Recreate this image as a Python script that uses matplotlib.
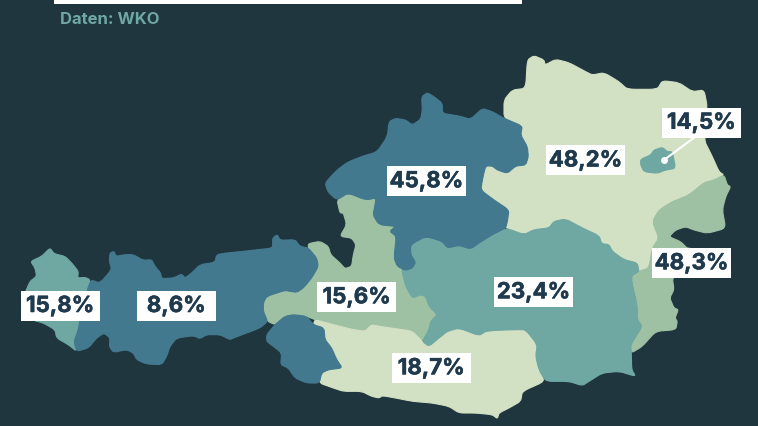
import matplotlib
matplotlib.use("Agg")
import matplotlib.pyplot as plt
from matplotlib.patches import PathPatch, Rectangle
from matplotlib.path import Path
import matplotlib.patheffects as pe

BG = "#20363e"
C_DARK = "#43798f"
C_TEAL = "#6fa8a3"
C_MID = "#9fc1a3"
C_LIGHT = "#d2e0c3"
INK = "#1f3a4d"

# label texts (percent)
values = {"Vorarlberg": "15,8%", "Tirol": "8,6%", "Salzburg": "15,6%", "Oberösterreich": "45,8%",
          "Niederösterreich": "48,2%", "Wien": "14,5%", "Burgenland": "48,3%", "Steiermark": "23,4%",
          "Kärnten": "18,7%"}
label_pos = {"Vorarlberg": (60, 305.7), "Tirol": (176.2, 305.7), "Salzburg": (356.5, 297),
             "Oberösterreich": (426.3, 181), "Niederösterreich": (585.5, 160.2), "Wien": (701.2, 122.5),
             "Burgenland": (691.5, 263), "Steiermark": (533.5, 292), "Kärnten": (431.2, 368)}

def S(pts, ox, oy):
    return [(ox + x / 3, oy + y / 3) for x, y in pts]
def W(pts): return S(pts, 0, 213)       # west part
def E(pts): return S(pts, 379, 213)     # south-east part
def N(pts): return S(pts, 379, 40)      # north-east part

salzburg = (
    [(337, 200), (348, 193), (366, 200), (376, 198), (379, 225), (396, 226), (390, 231), (397, 236)]
    + E([(45, 125), (60, 150), (68, 170), (80, 220), (100, 255), (125, 245), (140, 250), (150, 280), (175, 305),
         (155, 325), (150, 350), (130, 385), (100, 355), (70, 350), (0, 340)])
    + W([(1115, 335), (1095, 355), (1060, 350), (1000, 335), (945, 320), (920, 310), (880, 305), (855, 310),
         (825, 335), (803, 325), (790, 295), (790, 270), (800, 250), (855, 232), (870, 235), (890, 238),
         (910, 225), (935, 195), (950, 160), (945, 135), (925, 105), (925, 92), (960, 85), (985, 100),
         (992, 125), (1020, 150), (1035, 167), (1055, 160), (1060, 125), (1068, 95), (1055, 75), (1020, 70),
         (1040, 35), (1030, 0)])
    + [(340, 213)]
)
vorarlberg = W([(150, 105), (162, 122), (195, 130), (215, 150), (235, 175), (233, 195), (255, 193), (270, 200),
                (265, 230), (250, 290), (240, 320), (235, 350), (222, 385), (230, 415), (205, 395), (170, 375),
                (165, 350), (130, 330), (100, 322), (62, 300), (75, 240), (90, 205), (110, 190), (105, 165),
                (92, 145), (125, 130)])
tirol = W([(330, 120), (342, 115), (348, 130), (375, 125), (400, 125), (430, 142), (455, 140), (465, 160),
           (482, 180), (485, 197), (520, 195), (545, 183), (555, 195), (575, 180), (600, 155), (645, 148),
           (650, 125), (680, 120), (730, 115), (775, 110), (818, 105), (818, 75), (832, 65), (840, 82),
           (885, 80), (900, 100), (925, 105), (950, 135), (955, 160), (935, 195), (910, 225), (890, 238),
           (870, 235), (855, 232), (800, 250), (790, 270), (790, 295), (803, 325), (780, 345), (700, 375),
           (690, 380), (660, 365), (620, 365), (600, 377), (580, 368), (530, 375), (510, 400), (500, 430),
           (485, 455), (440, 453), (410, 440), (400, 420), (380, 410), (340, 418), (328, 400), (330, 375),
           (312, 360), (290, 375), (265, 405), (230, 415), (222, 385), (235, 350), (240, 320), (270, 200),
           (300, 210), (335, 170), (328, 145)])
osttirol = W([(800, 365), (825, 335), (855, 310), (880, 305), (920, 310), (940, 335), (972, 345), (975, 380),
              (995, 405), (1010, 440), (1027, 465), (985, 470), (965, 480), (958, 510), (920, 510), (885, 495),
              (865, 465), (842, 455), (845, 420), (820, 400), (800, 385)])
oberoesterreich = (
    [(325, 183), (337, 170), (348, 162), (363, 156), (377, 152)]
    + N([(25, 290), (30, 245), (50, 235), (80, 240), (100, 255), (125, 238), (130, 210), (128, 170), (145, 158),
         (165, 170), (190, 190), (190, 220), (240, 228), (275, 238), (310, 205), (340, 215), (375, 235), (430, 258),
         (425, 285), (445, 320), (448, 350), (440, 375), (410, 378), (385, 400), (355, 390), (340, 378), (320, 378),
         (312, 410), (305, 450), (345, 480), (390, 510), (385, 545)])
    + E([(380, 45), (340, 65), (300, 90), (275, 108), (240, 97), (205, 105), (190, 85), (140, 70), (95, 95),
         (95, 125), (110, 148), (100, 165), (80, 172), (55, 160), (45, 135), (52, 70), (32, 55), (50, 40), (0, 35)])
    + [(373, 215), (375, 205), (376, 198), (366, 200), (348, 193), (337, 200), (328, 192)]
)
niederoesterreich = (
    N([(375, 235), (375, 180), (400, 150), (440, 145), (445, 60), (465, 47), (495, 60), (498, 75), (530, 58),
       (570, 68), (620, 95), (640, 105), (675, 98), (720, 125), (745, 148), (835, 148), (850, 122), (900, 128),
       (940, 155), (975, 150), (985, 200), (975, 300), (1000, 350), (1020, 395), (1035, 405), (1005, 420),
       (975, 428), (930, 465), (880, 485), (840, 510), (820, 545)])
    + E([(840, 75), (820, 105), (810, 165), (780, 175), (775, 150), (735, 140), (700, 115), (690, 95), (668, 92),
         (660, 68), (610, 45), (560, 18), (525, 25), (510, 45), (465, 50), (435, 65), (380, 45)])
    + N([(385, 545), (390, 510), (345, 480), (305, 450), (312, 410), (320, 378), (340, 378), (355, 390), (385, 400),
         (410, 378), (440, 375), (448, 350), (445, 320), (425, 285), (430, 258)])
)
burgenland = (
    N([(1035, 405), (1045, 435), (1055, 440), (1040, 470), (1030, 510), (1040, 565), (985, 580), (945, 570),
       (920, 560), (890, 570), (870, 590), (905, 605), (925, 625)])
    + E([(935, 105), (880, 195), (885, 230), (872, 255), (885, 285), (898, 290), (888, 315), (895, 325), (890, 350),
         (830, 355), (790, 400), (757, 420), (755, 395), (790, 340), (775, 320), (775, 280), (755, 190), (780, 175),
         (810, 165), (820, 105), (840, 75)])
    + N([(820, 545), (840, 510), (880, 485), (930, 465), (975, 428), (1005, 420)])
)
wien = N([(785, 358), (815, 345), (825, 330), (850, 322), (865, 335), (880, 335), (890, 385), (860, 390),
          (835, 400), (795, 395), (785, 375)])
steiermark = E([(95, 95), (140, 70), (190, 85), (205, 105), (240, 97), (275, 108), (300, 90), (340, 65), (380, 45),
                (435, 65), (465, 50), (510, 45), (525, 25), (560, 18), (610, 45), (660, 68), (668, 92), (690, 95),
                (700, 115), (735, 140), (775, 150), (780, 175), (755, 190), (775, 280), (775, 320), (790, 340),
                (755, 395), (757, 420), (758, 470), (770, 490), (720, 475), (670, 480), (630, 505), (610, 518),
                (570, 505), (500, 505), (480, 470), (470, 430), (475, 395), (440, 350), (410, 350), (350, 352),
                (320, 355), (300, 368), (240, 345), (205, 355), (180, 375), (150, 400), (130, 385), (150, 350),
                (155, 325), (175, 305), (150, 280), (140, 250), (125, 245), (100, 255), (80, 220), (68, 170),
                (80, 172), (100, 165), (110, 148), (95, 125)])
kaernten = (
    W([(945, 320), (1000, 335), (1060, 350), (1095, 355), (1115, 335)])
    + E([(0, 340), (70, 350), (100, 355), (130, 385), (150, 400), (180, 375), (205, 355), (240, 345), (300, 368),
         (320, 355), (350, 352), (410, 350), (440, 350), (475, 395), (470, 430), (480, 470), (497, 505), (430, 535),
         (425, 565), (390, 585), (360, 600), (355, 617), (340, 605), (290, 600), (240, 600), (210, 580), (160, 570),
         (100, 565), (50, 555), (10, 548), (0, 555)])
    + W([(1115, 550), (1085, 535), (1030, 535), (1000, 525), (958, 510), (965, 480), (985, 470), (1027, 465),
         (1010, 440), (995, 405), (975, 380), (972, 345), (940, 335)])
)

outlines = {"Salzburg": (salzburg, C_MID), "Kärnten": (kaernten, C_LIGHT), "Vorarlberg": (vorarlberg, C_TEAL),
            "Tirol": (tirol, C_DARK), "Osttirol": (osttirol, C_DARK), "Niederösterreich": (niederoesterreich, C_LIGHT),
            "Burgenland": (burgenland, C_MID), "Steiermark": (steiermark, C_TEAL),
            "Oberösterreich": (oberoesterreich, C_DARK), "Wien": (wien, C_TEAL)}

def soft_path(pts, r=0.28):
    """Closed outline with straight edges and each vertex rounded by a quadratic Bezier."""
    n = len(pts)
    lerp = lambda a, b, t: (a[0] + (b[0] - a[0]) * t, a[1] + (b[1] - a[1]) * t)
    verts, codes = [], []
    for i in range(n):
        p, c, q = pts[i - 1], pts[i], pts[(i + 1) % n]
        verts += [lerp(c, p, r), c, lerp(c, q, r)]
        codes += [Path.LINETO if i else Path.MOVETO, Path.CURVE3, Path.CURVE3]
    verts.append(verts[0])
    codes.append(Path.CLOSEPOLY)
    return Path(verts, codes)

fig = plt.figure(figsize=(7.58, 4.26), dpi=100, facecolor=BG)
ax = fig.add_axes([0, 0, 1, 1])
ax.set_xlim(0, 758)
ax.set_ylim(426, 0)
ax.axis("off")

for name in outlines:
    pts, col = outlines[name]
    ax.add_patch(PathPatch(soft_path(pts), fc=col, ec=col, lw=0.8, joinstyle="round", zorder=2))

# header bar remnant and source
ax.add_patch(Rectangle((54, -5), 467.5, 9, fc="white", ec="none", zorder=3))
ax.text(60, 19, "Daten: WKO", color=C_TEAL, fontsize=12, fontweight="bold", family="Inter",
        va="center", ha="left", zorder=3)

# Wien leader
ax.plot([664, 695], [160, 137], color="white", lw=1.5, zorder=4, solid_capstyle="round")
ax.plot([664], [160], "o", color="white", ms=5, zorder=4, mec="none")

BW, BH = 79, 30
for name, txt in values.items():
    x, y = label_pos[name]
    ax.add_patch(Rectangle((x - BW / 2, y - BH / 2), BW, BH, fc="white", ec="none", zorder=5))
    ax.text(x, y + 0.3, txt, color=INK, fontsize=16, fontweight="bold", family="Inter",
            ha="center", va="center", zorder=6,
            path_effects=[pe.withStroke(linewidth=0.4, foreground=INK)])

fig.savefig("out.png", dpi=100, facecolor=BG)
